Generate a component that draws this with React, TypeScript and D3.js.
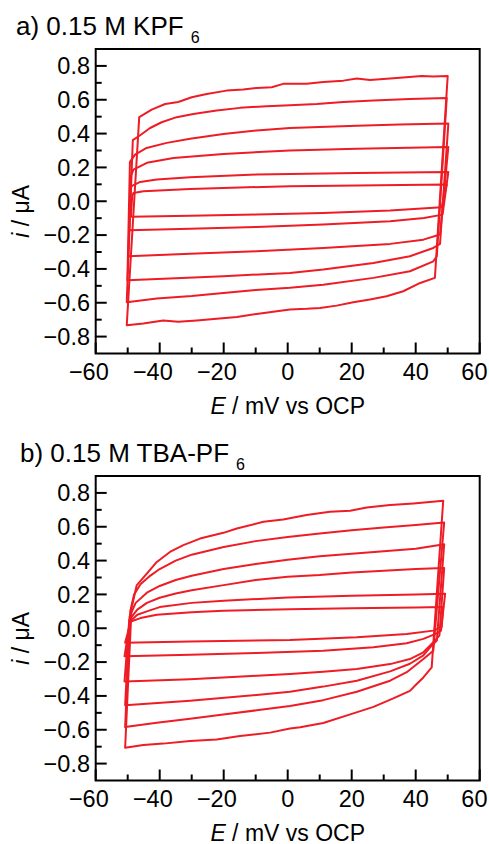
import React from "react";
import * as d3 from "d3";

type Pt = [number, number];

// x-axis / y-axis ticks
const xMajor = [-60, -40, -20, 0, 20, 40, 60];
const xMinor = [-50, -30, -10, 10, 30, 50];
const yMajor = [0.8, 0.6, 0.4, 0.2, 0.0, -0.2, -0.4, -0.6, -0.8];
const yMinor = [0.7, 0.5, 0.3, 0.1, -0.1, -0.3, -0.5, -0.7];

// Panel a) 0.15 M KPF6 — each loop: lower-left corner, upper branch (→), lower branch (←)
const kpf1: Pt[] = [
  [-50.3, -0.733], [-46.4, 0.497], [-42.5, 0.542], [-38.3, 0.575], [-34.2, 0.587], [-30, 0.615], [-25.3, 0.634],
  [-19.1, 0.654], [-13.9, 0.66], [-9.7, 0.67], [-5, 0.674], [-1.4, 0.694], [5.9, 0.694], [11.1, 0.705],
  [17.4, 0.713], [21.6, 0.725], [25.7, 0.717], [34.1, 0.729], [41.9, 0.741], [45.5, 0.737], [50.0, 0.741],
  [46.0, -0.453], [41.4, -0.483], [36.1, -0.532], [30.9, -0.562], [25.7, -0.581], [20.5, -0.597], [15.3, -0.617],
  [10.1, -0.631], [5.9, -0.636], [0.7, -0.64], [-3.4, -0.65], [-9.7, -0.666], [-15.9, -0.684], [-22.2, -0.694],
  [-28.4, -0.705], [-34.2, -0.713], [-38.9, -0.705], [-45.1, -0.723],
];
const kpf2: Pt[] = [
  [-50.3, -0.597], [-48.4, 0.361], [-46.1, 0.39], [-43, 0.433], [-39.4, 0.467], [-34.7, 0.497], [-29.5, 0.516],
  [-22.2, 0.536], [-14.9, 0.552], [-6.6, 0.562], [0.7, 0.567], [9.1, 0.575], [17.4, 0.587], [26.8, 0.595],
  [38.2, 0.605], [49.7, 0.611],
  [46.6, -0.325], [45.5, -0.355], [38.2, -0.414], [26.8, -0.453], [11.1, -0.493], [0.7, -0.512], [-10, -0.525],
  [-20.1, -0.542], [-30, -0.56], [-40.9, -0.575],
];
const kpf3: Pt[] = [
  [-50.1, -0.467], [-49.3, 0.233], [-47.7, 0.276], [-44.1, 0.315], [-37.8, 0.345], [-30.5, 0.37], [-20.1, 0.398],
  [-9.7, 0.418], [0.7, 0.433], [21.6, 0.447], [35, 0.453], [50.2, 0.459],
  [47.6, -0.252], [45.5, -0.276], [38.2, -0.325], [26.8, -0.365], [11.1, -0.404], [0.7, -0.424], [-20.1, -0.443],
  [-35, -0.455],
];
const kpf4: Pt[] = [
  [-49.8, -0.325], [-49.0, 0.15], [-48.2, 0.187], [-44, 0.227], [-35.7, 0.256], [-20.1, 0.28], [0.7, 0.3],
  [21.6, 0.311], [50.2, 0.321],
  [47.6, -0.197], [42.4, -0.227], [32, -0.252], [11.1, -0.276], [-9.7, -0.296], [-30.5, -0.311],
];
const kpf5: Pt[] = [
  [-49.5, -0.171], [-49.2, 0.06], [-48.8, 0.089], [-46.1, 0.114], [-40.9, 0.128], [-30.5, 0.142], [-9.7, 0.158],
  [21.6, 0.167], [50.2, 0.173],
  [48.4, -0.079], [42.6, -0.099], [32, -0.118], [11.1, -0.138], [-9.7, -0.152], [-30.5, -0.162],
];
const kpf6: Pt[] = [
  [-49.0, -0.091], [-48.6, 0.03], [-48.2, 0.049], [-45.1, 0.059], [-30.5, 0.073], [0.7, 0.089], [49.7, 0.099],
  [48.1, -0.035], [32, -0.055], [11.1, -0.069], [-9.7, -0.079], [-30.5, -0.085],
];

// Panel b) 0.15 M TBA-PF6
const tba1: Pt[] = [
  [-50.8, -0.706], [-48.8, 0.12], [-47.2, 0.253], [-44.1, 0.322], [-40.9, 0.392], [-36.8, 0.451], [-32.6, 0.491],
  [-27.4, 0.53], [-20.1, 0.564], [-15.9, 0.59], [-7.6, 0.629], [-1.4, 0.643], [5.9, 0.669], [13.2, 0.688],
  [19.5, 0.694], [24.7, 0.714], [32, 0.728], [39.3, 0.738], [48.6, 0.754],
  [45, -0.231], [42.4, -0.291], [40.3, -0.33], [38.2, -0.37], [33, -0.415], [26.8, -0.465], [21, -0.5],
  [11.1, -0.56], [3.9, -0.585], [0.7, -0.592], [-5.5, -0.617], [-14.9, -0.637], [-22.2, -0.657], [-30.5, -0.667],
  [-38.9, -0.682], [-45.1, -0.69],
];
const tba2: Pt[] = [
  [-50.8, -0.584], [-49.2, 0.1], [-48, 0.2], [-46, 0.26], [-43, 0.31], [-40, 0.35], [-35, 0.4], [-30, 0.435],
  [-20, 0.48], [-10, 0.515], [0, 0.54], [10, 0.56], [20, 0.58], [30, 0.595], [40, 0.61], [48.9, 0.625],
  [45.5, -0.133], [42.4, -0.182], [37.2, -0.26], [32, -0.31], [21.6, -0.375], [11.1, -0.425], [0.7, -0.46],
  [-9.7, -0.485], [-20.1, -0.51], [-30.5, -0.535], [-40.9, -0.558],
];
const tba3: Pt[] = [
  [-50.8, -0.455], [-49.4, 0.07], [-47.5, 0.15], [-44, 0.21], [-40, 0.25], [-35, 0.285], [-30, 0.31], [-20, 0.35],
  [-10, 0.38], [0, 0.405], [10, 0.425], [20, 0.44], [30, 0.455], [40, 0.47], [48.9, 0.497],
  [46.6, -0.073], [44.5, -0.113], [42.4, -0.16], [38.2, -0.21], [32, -0.255], [21.6, -0.31], [11.1, -0.345],
  [0.7, -0.375], [-9.7, -0.394], [-30.5, -0.429],
];
const tba4: Pt[] = [
  [-51, -0.315], [-49.5, 0.05], [-47, 0.11], [-44, 0.15], [-40, 0.18], [-35, 0.205], [-30, 0.225], [-20, 0.255],
  [-10, 0.285], [0, 0.305], [10, 0.315], [20, 0.33], [30, 0.34], [40, 0.35], [48.9, 0.356],
  [47.4, -0.044], [45.5, -0.083], [42.4, -0.142], [38.2, -0.182], [32, -0.212], [21.6, -0.241], [11.1, -0.257],
  [0.7, -0.271], [-9.7, -0.281], [-30.5, -0.301],
];
const tba5: Pt[] = [
  [-51, -0.166], [-49.3, 0.04], [-47, 0.08], [-44, 0.1], [-40, 0.125], [-30, 0.15], [-20, 0.163], [0, 0.182],
  [20, 0.192], [40, 0.2], [49.2, 0.204],
  [47.9, -0.014], [46.6, -0.03], [42.4, -0.063], [37.2, -0.089], [26.8, -0.113], [11.1, -0.133], [-9.7, -0.146],
  [-30.5, -0.156],
];
const tba6: Pt[] = [
  [-50.8, -0.085], [-49, 0.04], [-46, 0.06], [-40.9, 0.08], [-30, 0.095], [-20.1, 0.103], [0.7, 0.113],
  [20, 0.118], [40, 0.122], [48.6, 0.125],
  [48.1, 0.006], [45.5, -0.014], [37.2, -0.034], [21.6, -0.053], [0.7, -0.069], [-30.5, -0.079],
];

const kpfLoops = [kpf1, kpf2, kpf3, kpf4, kpf5, kpf6];
const tbaLoops = [tba1, tba2, tba3, tba4, tba5, tba6];

const FONT = "'Liberation Sans', Arial, Helvetica, sans-serif";
const RED = "#ee1c25";
const LEFT = 95.7;
const RIGHT = 479.7;
const PH = 304.5;

function fmtY(v: number) {
  const s = Math.abs(v).toFixed(1);
  return (v < -1e-9 ? "\u2212" : "") + s;
}

function Panel({ top, titleX, title, loops }: { top: number; titleX: number; title: string; loops: Pt[][] }) {
  const x = d3.scaleLinear().domain([-60, 60]).range([LEFT, RIGHT]);
  const y = d3.scaleLinear().domain([-0.9, 0.9]).range([top + PH, top]);
  const line = d3.line<Pt>().x((d) => x(d[0])).y((d) => y(d[1]));
  const bottom = top + PH;
  const tickFs = 23.5;
  return (
    <g>
      <text x={titleX} y={top - 14.5} fontSize={26} fontFamily={FONT} fill="#000">
        {title}
        <tspan fontSize={16} dx={7} dy={8}>6</tspan>
      </text>
      {loops.map((l, i) => (
        <path key={i} d={(line(l) || "") + "Z"} fill="none" stroke={RED} strokeWidth={2} strokeLinejoin="round" />
      ))}
      <rect x={LEFT} y={top} width={RIGHT - LEFT} height={PH} fill="none" stroke="#000" strokeWidth={2} />
      {xMajor.map((t) => (
        <line key={"xm" + t} x1={x(t)} x2={x(t)} y1={bottom} y2={bottom - 11} stroke="#000" strokeWidth={2} />
      ))}
      {xMinor.map((t) => (
        <line key={"xn" + t} x1={x(t)} x2={x(t)} y1={bottom} y2={bottom - 6} stroke="#000" strokeWidth={2} />
      ))}
      {yMajor.map((t) => (
        <line key={"ym" + t} x1={LEFT} x2={LEFT + 11} y1={y(t)} y2={y(t)} stroke="#000" strokeWidth={2} />
      ))}
      {yMinor.map((t) => (
        <line key={"yn" + t} x1={LEFT} x2={LEFT + 6} y1={y(t)} y2={y(t)} stroke="#000" strokeWidth={2} />
      ))}
      {yMajor.map((t) => (
        <text key={"yl" + t} x={90} y={y(t) + 8.4} textAnchor="end" fontSize={tickFs} fontFamily={FONT}>
          {fmtY(t)}
        </text>
      ))}
      {xMajor.map((t) => {
        const digits = String(Math.abs(t));
        const half = (digits.length * 0.556 * tickFs) / 2;
        const xe = Math.min(x(t) + half, 487.5);
        return (
          <text key={"xl" + t} x={xe} y={bottom + 26} textAnchor="end" fontSize={tickFs} fontFamily={FONT}>
            {(t < 0 ? "\u2212" : "") + digits}
          </text>
        );
      })}
      <text x={(LEFT + RIGHT) / 2} y={bottom + 60} textAnchor="middle" fontSize={23} fontFamily={FONT}>
        <tspan fontStyle="italic">E</tspan> / mV vs OCP
      </text>
      <text
        transform={`translate(28.5, ${top + PH / 2 + 10}) rotate(-90)`}
        textAnchor="middle"
        fontSize={23}
        fontFamily={FONT}
      >
        <tspan fontStyle="italic">i</tspan> / μA
      </text>
    </g>
  );
}

export default function App() {
  return (
    <svg
      width={489}
      height={844}
      viewBox="0 0 489 844"
      style={{ position: "absolute", left: 0, top: 0, background: "#fff" }}
    >
      <rect width={489} height={844} fill="#fff" />
      <Panel top={49} titleX={16} title="a) 0.15 M KPF" loops={kpfLoops} />
      <Panel top={476} titleX={20} title="b) 0.15 M TBA-PF" loops={tbaLoops} />
    </svg>
  );
}
